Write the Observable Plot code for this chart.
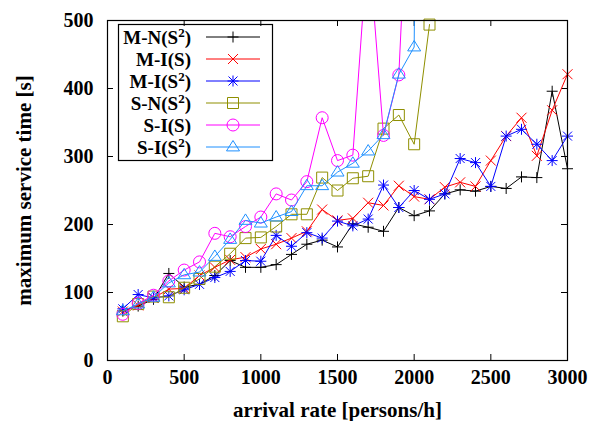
<!DOCTYPE html>
<html><head><meta charset="utf-8">
<script src="https://cdn.jsdelivr.net/npm/d3@7"></script>
<script src="https://cdn.jsdelivr.net/npm/@observablehq/plot@0.6"></script>
<style>body{margin:0;background:#fff}#chart svg{display:block}</style>
</head><body><div id="chart"></div>
<script>
// ---- data ----
const arrivalRate = [100,200,300,400,500,600,700,800,900,1000,1100,1200,1300,1400,1500,1600,1700,1800,1900,2000,2100,2200,2300,2400,2500,2600,2700,2800,2900,3000];
const mN_S2 = [73,80,90,128,108,112,125,147,137,137,141,156,171,177,167,201,196,190,225,213,220,245,251,249,256,253,270,269,396,282];
const mI_S  = [72,81,92,105,106,125,137,148,152,164,171,180,190,222,206,209,232,228,257,241,237,255,262,256,294,330,357,301,368,421];
const mI_S2 = [76,97,92,95,104,112,122,131,147,146,184,168,188,180,205,198,208,258,225,250,237,245,297,291,256,330,340,318,294,330];
const sN_S2 = [65,83,94,93,107,120,138,157,180,181,197,215,215,269,250,268,271,341,361,318,494];
const sI_S  = [68,84,96,117,133,145,187,182,197,211,245,236,263,357,294,302,620,331,420,900];
const sI_S2 = [73,83,93,114,126,130,153,178,206,202,211,219,257,257,277,290,308,332,421,461,3000];
const xTicks = [0,500,1000,1500,2000,2500,3000];
const yTicks = [0,100,200,300,400,500];
const xLabel = "arrival rate [persons/h]";
const yLabel = "maximum service time [s]";

// ---- gnuplot-like point symbols ----
const symPlus = {draw(c){const h=5.5;c.moveTo(-h,0);c.lineTo(h,0);c.moveTo(0,-h);c.lineTo(0,h);}};
const symCross = {draw(c){const h=5;c.moveTo(-h,-h);c.lineTo(h,h);c.moveTo(-h,h);c.lineTo(h,-h);}};
const symStar = {draw(c){const h=5.5,k=4.5;c.moveTo(-h,0);c.lineTo(h,0);c.moveTo(0,-h);c.lineTo(0,h);c.moveTo(-k,-k);c.lineTo(k,k);c.moveTo(-k,k);c.lineTo(k,-k);}};
const symBox = {draw(c){const h=5.5;c.moveTo(-h,-h);c.lineTo(h,-h);c.lineTo(h,h);c.lineTo(-h,h);c.closePath();}};
const symCircle = {draw(c){const r=6;c.moveTo(r,0);c.arc(0,0,r,0,2*Math.PI);}};
const symTri = {draw(c){const h=6.5;c.moveTo(0,-h);c.lineTo(h,h*0.6);c.lineTo(-h,h*0.6);c.closePath();}};

const series = [
  {label:["M-N(S","2",")"], values:mN_S2, color:"#000000", sym:symPlus},
  {label:["M-I(S)"],         values:mI_S,  color:"#ff0000", sym:symCross},
  {label:["M-I(S","2",")"], values:mI_S2, color:"#0000ff", sym:symStar},
  {label:["S-N(S","2",")"], values:sN_S2, color:"#8f8f00", sym:symBox},
  {label:["S-I(S)"],         values:sI_S,  color:"#ff00ff", sym:symCircle},
  {label:["S-I(S","2",")"], values:sI_S2, color:"#1e90ff", sym:symTri}
];

const marks = [];
series.forEach(s => {
  const rows = s.values.map((v,i) => ({x: arrivalRate[i], y: v}));
  marks.push(Plot.line(rows, {x:"x", y:"y", stroke:s.color, strokeWidth:1, clip:true}));
  marks.push(Plot.dot(rows, {x:"x", y:"y", symbol:s.sym, stroke:s.color, fill:"none", strokeWidth:1, r:5, filter:d=>d.y<=500}));
});

const xt = 6*3000/460, yt = 6*500/340;
const plot = Plot.plot({
  width:595, height:421,
  marginLeft:107, marginRight:28, marginTop:20, marginBottom:61,
  style:{fontFamily:"'Liberation Serif', serif", fontWeight:"bold", fontSize:"20px", color:"#000", background:"#fff"},
  x:{domain:[0,3000]},
  y:{domain:[0,500]},
  marks:[
    Plot.ruleX(xTicks, {x:d=>d, y1:0, y2:yt, stroke:"#000"}),
    Plot.ruleX(xTicks, {x:d=>d, y1:500-yt, y2:500, stroke:"#000"}),
    Plot.ruleY(yTicks, {y:d=>d, x1:0, x2:xt, stroke:"#000"}),
    Plot.ruleY(yTicks, {y:d=>d, x1:3000-xt, x2:3000, stroke:"#000"}),
    Plot.axisX({ticks:xTicks, tickSize:0, tickPadding:9, label:null, tickFormat:d=>String(d)}),
    Plot.axisY({ticks:yTicks, tickSize:0, tickPadding:14, label:null, tickFormat:d=>String(d)}),
    Plot.text([yLabel], {frameAnchor:"left", dx:-83, rotate:-90, textAnchor:"middle", lineAnchor:"middle", fontSize:21, text:d=>d, fill:"#000"}),
    Plot.text([xLabel], {frameAnchor:"bottom", dy:50, textAnchor:"middle", lineAnchor:"middle", fontSize:21, text:d=>d, fill:"#000"}),
    ...marks,
    Plot.frame({stroke:"#000", strokeWidth:1.2})
  ]
});
document.getElementById("chart").appendChild(plot);

// ---- legend (gnuplot style key) ----
const svg = d3.select(plot);
const g = svg.append("g").attr("font-family","'Liberation Serif', serif").attr("font-weight","bold").attr("font-size","19px");
g.append("rect").attr("x",118.5).attr("y",24.5).attr("width",154).attr("height",136)
  .attr("fill","none").attr("stroke","#000").attr("stroke-width",1.2);
series.forEach((s,i) => {
  const yy = 37 + i*22;
  const t = g.append("text").attr("x",191).attr("y",yy).attr("text-anchor","end").attr("dy","0.35em").attr("fill","#000");
  if (s.label.length === 1) t.text(s.label[0]);
  else {
    t.append("tspan").text(s.label[0]);
    t.append("tspan").attr("dy",-7).attr("font-size","13px").text(s.label[1]);
    t.append("tspan").attr("dy",7).text(s.label[2]);
  }
  g.append("line").attr("x1",206).attr("x2",260).attr("y1",yy).attr("y2",yy).attr("stroke",s.color).attr("stroke-width",1);
  g.append("path").attr("transform",`translate(233,${yy})`).attr("d",d3.symbol().type(s.sym)()).attr("fill","none").attr("stroke",s.color).attr("stroke-width",1);
});
</script></body></html>
